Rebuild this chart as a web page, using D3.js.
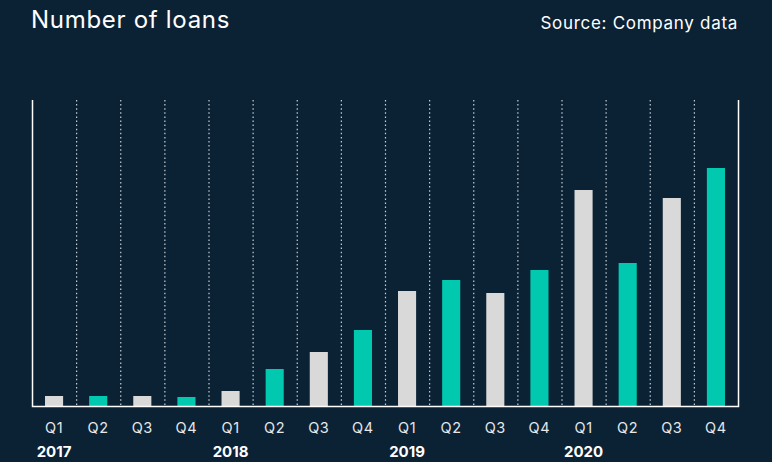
<!DOCTYPE html>
<html>
<head>
<meta charset="utf-8">
<script src="https://cdn.jsdelivr.net/npm/d3@7"></script>
<style>
  body { margin: 0; background: #0b2235; }
  text { font-family: Inter, "Noto Sans", sans-serif; }
</style>
</head>
<body>
<div id="chart"></div>
<script>
const quarters = ['Q1','Q2','Q3','Q4','Q1','Q2','Q3','Q4','Q1','Q2','Q3','Q4','Q1','Q2','Q3','Q4']
const years = ['2017','2018','2019','2020']
// relative number of loans
const loans = [10, 10, 10, 9, 15, 37, 54, 76, 115, 126, 113, 136, 216, 143, 208, 238]
const yMax = 306

const width = 772, height = 462
const margin = {top: 100, right: 34, bottom: 56, left: 32}
const innerW = width - margin.left - margin.right
const innerH = height - margin.top - margin.bottom

const svg = d3.select('#chart')
  .append('svg')
  .attr('width', width)
  .attr('height', height)

svg.append('rect').attr('width', width).attr('height', height).attr('fill', '#0b2235')

svg.append('text')
  .attr('x', 31).attr('y', 28)
  .attr('fill', '#ffffff')
  .style('font-size', '24px')
  .style('letter-spacing', '0.7px')
  .text('Number of loans')

svg.append('text')
  .attr('x', 738).attr('y', 29)
  .attr('text-anchor', 'end')
  .attr('fill', '#ffffff')
  .style('font-size', '17px')
  .style('letter-spacing', '0.7px')
  .text('Source: Company data')

const g = svg.append('g')
  .attr('transform', 'translate(' + margin.left + ',' + margin.top + ')')

const idx = d3.range(loans.length)
const x = d3.scaleBand()
  .domain(idx)
  .range([0, innerW])
  .paddingInner(0.59)
  .paddingOuter(0.295)

const y = d3.scaleLinear()
  .domain([0, yMax])
  .range([innerH, 0])

const step = x.step()

// dotted separators between quarters
g.selectAll('.sep')
  .data(idx.slice(1))
  .enter()
  .append('line')
  .attr('class', 'sep')
  .attr('x1', d => x(d) - x.paddingInner() * step / 2 + 0.5)
  .attr('x2', d => x(d) - x.paddingInner() * step / 2 + 0.5)
  .attr('y1', 0)
  .attr('y2', innerH)
  .attr('stroke', '#c8d0d6')
  .attr('stroke-width', 1.2)
  .attr('stroke-dasharray', '1.5,2.6')

g.selectAll('.bars')
  .data(loans)
  .enter()
  .append('rect')
  .attr('class', 'bars')
  .attr('x', (d, i) => x(i))
  .attr('y', d => y(d))
  .attr('width', x.bandwidth())
  .attr('height', d => innerH - y(d))
  .attr('fill', (d, i) => i % 2 === 0 ? '#d9d9d9' : '#00c9b0')

// frame: left, right, bottom
g.append('path')
  .attr('d', 'M0.5,0V' + (innerH + 0.5) + 'H' + (innerW + 0.5) + 'V0')
  .attr('fill', 'none')
  .attr('stroke', '#ffffff')
  .attr('stroke-width', 1.5)

g.selectAll('.qlab')
  .data(quarters)
  .enter()
  .append('text')
  .attr('class', 'qlab')
  .attr('x', (d, i) => x(i) + x.bandwidth() / 2)
  .attr('y', innerH + 27)
  .attr('text-anchor', 'middle')
  .attr('fill', '#e6e8ea')
  .style('font-size', '14.5px')
  .style('letter-spacing', '0.6px')
  .text(d => d)

g.selectAll('.ylab')
  .data(years)
  .enter()
  .append('text')
  .attr('class', 'ylab')
  .attr('x', (d, i) => x(i * 4) + x.bandwidth() / 2)
  .attr('y', innerH + 51)
  .attr('text-anchor', 'middle')
  .attr('fill', '#ffffff')
  .style('font-size', '15px')
  .style('font-weight', 'bold')
  .text(d => d)
</script>
</body>
</html>
